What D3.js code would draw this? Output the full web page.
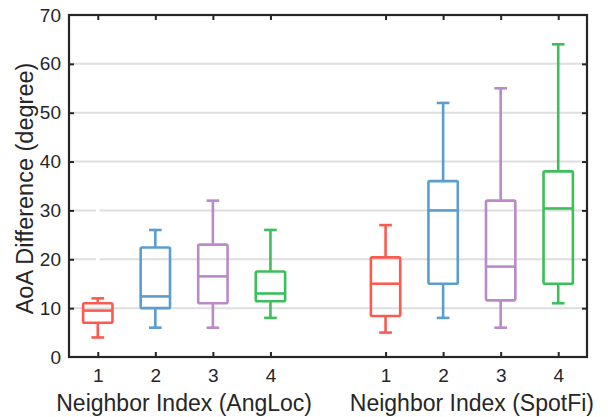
<!DOCTYPE html>
<html><head><meta charset="utf-8">
<script src="https://cdn.jsdelivr.net/npm/d3@7"></script>
<style>body{margin:0;background:#fff}svg{display:block}text{font-family:"Liberation Sans",Arial,sans-serif;fill:#262626}</style>
</head><body><svg id="c" width="608" height="417"></svg>
<script>
// ---- data ----
const groups = ["Neighbor Index (AngLoc)", "Neighbor Index (SpotFi)"];
const positions = [1, 2, 3, 4, 6, 7, 8, 9];
const tickLabels = ["1", "2", "3", "4", "1", "2", "3", "4"];
const colors = ["#fb5a4e", "#5b9dcf", "#b98ac7", "#3cbf5a", "#fb5a4e", "#5b9dcf", "#b98ac7", "#3cbf5a"];
const whiskerLow = [4, 6, 6, 8, 5, 8, 6, 11];
const q1 = [7, 10, 11, 11.4, 8.4, 15, 11.6, 15];
const median = [9.5, 12.4, 16.5, 13, 15, 30, 18.5, 30.4];
const q3 = [11, 22.4, 23, 17.5, 20.4, 36, 32, 38];
const whiskerHigh = [12, 26, 32, 26, 27, 52, 55, 64];
const yTicks = [0, 10, 20, 30, 40, 50, 60, 70];
const yLabel = "AoA Difference (degree)";

const svg = d3.select("#c");
const M = {l: 69, r: 587, t: 15, b: 357};
const x = d3.scaleLinear().domain([0.5, 9.5]).range([M.l, M.r]);
const y = d3.scaleLinear().domain([0, 70]).range([M.b, M.t]);
const ink = "#262626";

// grid
const grid = svg.append("g");
yTicks.filter(v => v > 0 && v < 70).forEach(v => {
  grid.append("line").attr("x1", M.l).attr("x2", M.r).attr("y1", y(v)).attr("y2", y(v))
    .attr("stroke", "#dedede").attr("stroke-width", 2);
});
// small white gap seen in the 20 and 30 grid lines
[20, 30].forEach(v => {
  grid.append("line").attr("x1", x(0.97)).attr("x2", x(1.03)).attr("y1", y(v)).attr("y2", y(v))
    .attr("stroke", "#fff").attr("stroke-width", 3);
});

// boxes
const bw = x(0.5 + 0.51) - x(0.5);
const cw = x(0.5 + 0.22) - x(0.5);
const boxes = svg.append("g");
positions.forEach((p, i) => {
  const g = boxes.append("g").attr("stroke", colors[i]).attr("stroke-width", 2.6).attr("fill", "none");
  const cx = x(p);
  g.append("line").attr("x1", cx).attr("x2", cx).attr("y1", y(whiskerHigh[i])).attr("y2", y(q3[i]));
  g.append("line").attr("x1", cx).attr("x2", cx).attr("y1", y(q1[i])).attr("y2", y(whiskerLow[i]));
  g.append("line").attr("x1", cx - cw / 2).attr("x2", cx + cw / 2).attr("y1", y(whiskerHigh[i])).attr("y2", y(whiskerHigh[i]));
  g.append("line").attr("x1", cx - cw / 2).attr("x2", cx + cw / 2).attr("y1", y(whiskerLow[i])).attr("y2", y(whiskerLow[i]));
  g.append("rect").attr("x", cx - bw / 2).attr("width", bw).attr("y", y(q3[i])).attr("height", y(q1[i]) - y(q3[i]))
    .attr("rx", 1.5).attr("stroke-linejoin", "round");
  g.append("line").attr("x1", cx - bw / 2).attr("x2", cx + bw / 2).attr("y1", y(median[i])).attr("y2", y(median[i]));
});

// axes
const fs = 19;
const yAxisL = svg.append("g").attr("transform", `translate(${M.l},0)`)
  .call(d3.axisLeft(y).tickValues(yTicks).tickSize(-5).tickPadding(8));
const yAxisR = svg.append("g").attr("transform", `translate(${M.r},0)`)
  .call(d3.axisRight(y).tickValues(yTicks).tickSize(-5).tickFormat(""));
const xAxisB = svg.append("g").attr("transform", `translate(0,${M.b})`)
  .call(d3.axisBottom(x).tickValues(positions).tickSize(-5).tickPadding(12).tickFormat((d, i) => tickLabels[i]));
const xAxisT = svg.append("g").attr("transform", `translate(0,${M.t})`)
  .call(d3.axisTop(x).tickValues(positions).tickSize(-5).tickFormat(""));
[yAxisL, yAxisR, xAxisB, xAxisT].forEach(a => {
  a.select(".domain").remove();
  a.selectAll(".tick line").attr("stroke", ink).attr("stroke-width", 2);
  a.selectAll(".tick text").attr("font-size", fs).style("fill", ink);
});
yAxisL.selectAll(".tick").filter(d => d === 0 || d === 70).select("line").remove();
yAxisR.selectAll(".tick").filter(d => d === 0 || d === 70).select("line").remove();
svg.append("rect").attr("x", M.l).attr("y", M.t).attr("width", M.r - M.l).attr("height", M.b - M.t)
  .attr("fill", "none").attr("stroke", ink).attr("stroke-width", 2.2);

// labels
svg.append("text").attr("x", x(2.5)).attr("y", 411).attr("text-anchor", "middle").attr("font-size", 23).text(groups[0]);
svg.append("text").attr("x", x(7.5)).attr("y", 411).attr("text-anchor", "middle").attr("font-size", 23).text(groups[1]);
svg.append("text").attr("transform", `translate(33,188.5) rotate(-90)`)
  .attr("text-anchor", "middle").attr("font-size", 23.5).text(yLabel);
</script></body></html>
